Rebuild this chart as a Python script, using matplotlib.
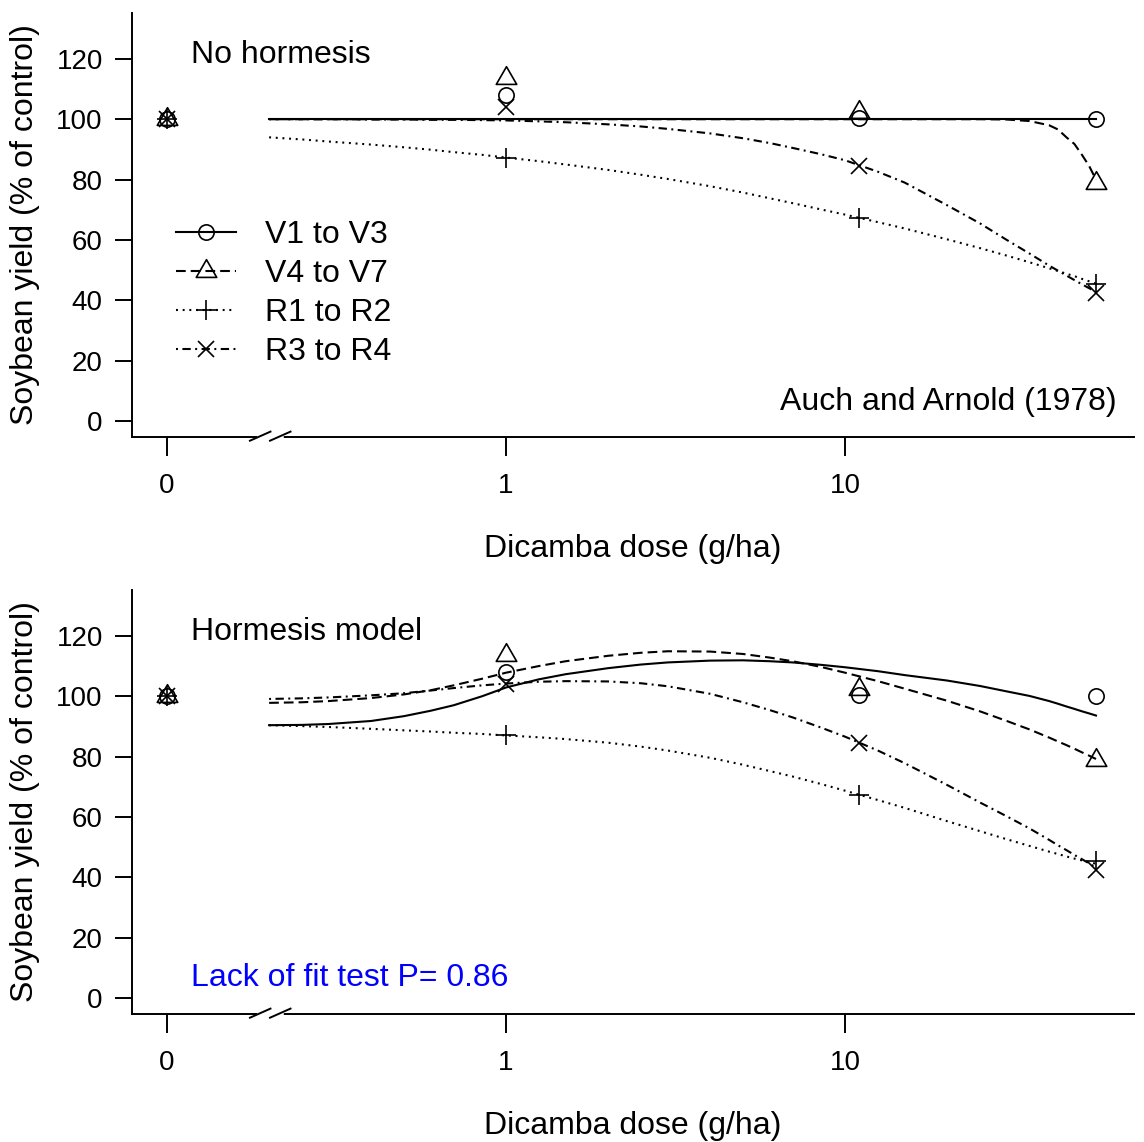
import numpy as np
import matplotlib
matplotlib.use("Agg")
import matplotlib.pyplot as plt
from matplotlib.path import Path
from matplotlib.lines import Line2D

plt.rcParams['font.family'] = ['Liberation Sans', 'DejaVu Sans']
plt.rcParams['lines.scale_dashes'] = False

# observed yields (% of control); dose 0 is drawn at the break position 0.1
dose = [0, 1, 11, 55]
obs = {
    'V1 to V3': [100, 108, 100.3, 100],
    'V4 to V7': [100, 113.6, 102.3, 78.9],
    'R1 to R2': [100, 87.3, 67.2, 45.3],
    'R3 to R4': [100, 104, 84.6, 42.5],
}

# fitted curves
cdose = [0.2, 0.25, 0.3, 0.4, 0.5, 0.6, 0.7, 0.85, 1, 1.25, 1.5, 2, 2.5, 3, 4, 5, 6, 7,
         8.5, 10, 12.5, 15, 20, 25, 30, 35, 40, 42.5, 45, 47.5, 50, 52.5, 55]
fit_no = {
    'V1 to V3': [100] * 33,
    'V4 to V7': [100] * 24 + [99.9, 99.4, 98, 96.6, 94, 91.8, 88.2, 84.5, 80],
    'R1 to R2': [94, 93.3, 92.6, 91.6, 90.7, 89.9, 89.1, 88.2, 87.3, 86.1, 85, 83.2,
                 81.6, 80.2, 77.8, 75.7, 73.8, 72.2, 70.1, 68.4, 65.9, 63.8, 60.2, 57.3,
                 54.8, 52.6, 50.6, 49.7, 48.8, 48, 47.1, 46.3, 45.5],
    'R3 to R4': [100, 100, 100, 99.9, 99.9, 99.8, 99.8, 99.7, 99.6, 99.3, 99, 98.3,
                 97.6, 96.8, 95.3, 93.7, 92.1, 90.5, 88.4, 86.4, 82.6, 79, 71.5, 65.5,
                 60, 55.5, 51.5, 49.8, 48.2, 46.7, 45.3, 44, 42.8],
}
fit_horm = {
    'V1 to V3': [90.4, 90.5, 90.8, 91.8, 93.4, 95.2, 97, 100, 102.9, 105.6, 107.3,
                 109.3, 110.5, 111.2, 111.8, 111.9, 111.6, 111.2, 110.4, 109.6, 108.3,
                 107, 105.2, 103.4, 101.6, 100.1, 98.4, 97.5, 96.6, 95.8, 95, 94.3, 93.6],
    'V4 to V7': [97.8, 98, 98.4, 99.4, 100.6, 102, 103.6, 105.8, 107.8, 110, 111.6,
                 113.4, 114.4, 114.9, 114.8, 114, 112.8, 111.6, 109.7, 107.8, 105, 102.5,
                 98.5, 95, 91.8, 89, 86.3, 85, 83.8, 82.6, 81.4, 80.3, 79.2],
    'R1 to R2': [90.4, 90.1, 89.8, 89.2, 88.7, 88.3, 87.9, 87.5, 87, 86.4, 85.8, 84.6,
                 83.3, 82, 79.6, 77.3, 75.2, 73.4, 70.9, 68.7, 65.6, 63, 58.6, 55.3,
                 52.6, 50.4, 48.5, 47.7, 46.9, 46.2, 45.6, 45, 44.5],
    'R3 to R4': [99.1, 99.3, 99.6, 100.3, 101, 101.9, 102.7, 103.6, 104.2, 104.8, 105,
                 104.9, 104.3, 103.3, 100.8, 98, 95.4, 93, 89.6, 86.6, 82, 77.8, 70.6,
                 64.8, 60.2, 56.2, 52.4, 50.6, 49, 47.4, 46, 44.6, 43.2],
}

groups = ['V1 to V3', 'V4 to V7', 'R1 to R2', 'R3 to R4']
yticks = [0, 20, 40, 60, 80, 100, 120]

# equilateral triangle like R's pch 2 (centred on centroid)
tri = Path([(0, 1.5551), (1.3468, -0.7776), (-1.3468, -0.7776), (0, 1.5551)],
           [Path.MOVETO, Path.LINETO, Path.LINETO, Path.CLOSEPOLY])
styles = {
    'V1 to V3': dict(ls='-', marker='o', ms=11),
    'V4 to V7': dict(ls=(0, (7, 3.6)), marker=tri, ms=17),
    'R1 to R2': dict(ls=(0, (1.4, 3.4)), marker='+', ms=15),
    'R3 to R4': dict(ls=(0, (1.4, 3.2, 6, 3.2)), marker='x', ms=12),
}

W, H = 1144, 1142
fig = plt.figure(figsize=(W / 100, H / 100), dpi=100)


def px_ax(l, t, r, b):
    return [l / W, 1 - b / H, (r - l) / W, (b - t) / H]


def panel(rect, fits, title, ylab_y):
    ax = fig.add_axes(rect)
    ax.set_xscale('log')
    xpos = [0.1 if d == 0 else d for d in dose]
    for g in groups:
        st = styles[g]
        ax.plot(cdose, fits[g], color='black', lw=1.5, ls=st['ls'])
        ax.plot(xpos, obs[g], ls='none', marker=st['marker'], ms=st['ms'],
                mfc='none', mec='black', mew=1.2)
    ax.set_xlim(0.0788, 71.2)
    ax.set_ylim(-5.2, 135.2)
    ax.set_xticks([0.1, 1, 10])
    ax.set_xticklabels(['0', '1', '10'])
    ax.xaxis.set_minor_locator(matplotlib.ticker.NullLocator())
    ax.set_yticks(yticks)
    ax.spines['top'].set_visible(False)
    ax.spines['right'].set_visible(False)
    for s in ['left', 'bottom']:
        ax.spines[s].set_linewidth(1.4)
    ax.tick_params(axis='x', length=14, width=1.4, pad=12, labelsize=20)
    ax.tick_params(axis='y', length=12, width=1.4, pad=9, labelsize=20)
    ax.text(0.0589, 0.901, title, transform=ax.transAxes, fontsize=23,
            ha='left', va='center')
    # axis break on the x axis
    ax.plot([0.1277, 0.1487], [-0.002, -0.002], color='white', lw=4,
            transform=ax.transAxes, clip_on=False, zorder=5)
    for x0 in [0.1177, 0.1377]:
        ax.plot([x0, x0 + 0.0205], [-0.0095, 0.012], color='black', lw=1.4,
                transform=ax.transAxes, clip_on=False, zorder=6)
    fig.text(25 / W, 1 - ylab_y / H, 'Soybean yield (% of control)', rotation=90,
             ha='center', va='center', fontsize=23)
    return ax


ax1 = panel(px_ax(132, 13, 1134, 436.7), fit_no, 'No hormesis', 225)
ax2 = panel(px_ax(132, 590, 1134, 1013.7), fit_horm, 'Hormesis model', 802)

fig.text(633 / W, 1 - 557 / H, 'Dicamba dose (g/ha)', ha='center', va='baseline',
         fontsize=23)
fig.text(633 / W, 1 - 1134 / H, 'Dicamba dose (g/ha)', ha='center', va='baseline',
         fontsize=23)

ax1.text(0.983, 0.082, 'Auch and Arnold (1978)', transform=ax1.transAxes,
         fontsize=23, ha='right', va='center')
ax2.text(0.0589, 0.084, 'Lack of fit test P= 0.86', transform=ax2.transAxes,
         fontsize=23, ha='left', va='center', color='#0000ff')

handles = [Line2D([], [], color='black', lw=1.5, ls=styles[g]['ls'],
                  marker=styles[g]['marker'], ms=styles[g]['ms'], mfc='none',
                  mec='black', mew=1.2) for g in groups]
ax1.legend(handles, groups, loc='upper left', bbox_to_anchor=(0.0439, 0.511),
           frameon=False, fontsize=23, handlelength=1.875, handletextpad=0.9,
           labelspacing=0.28, borderpad=0, borderaxespad=0, numpoints=1)

fig.savefig('out.png', dpi=100)
